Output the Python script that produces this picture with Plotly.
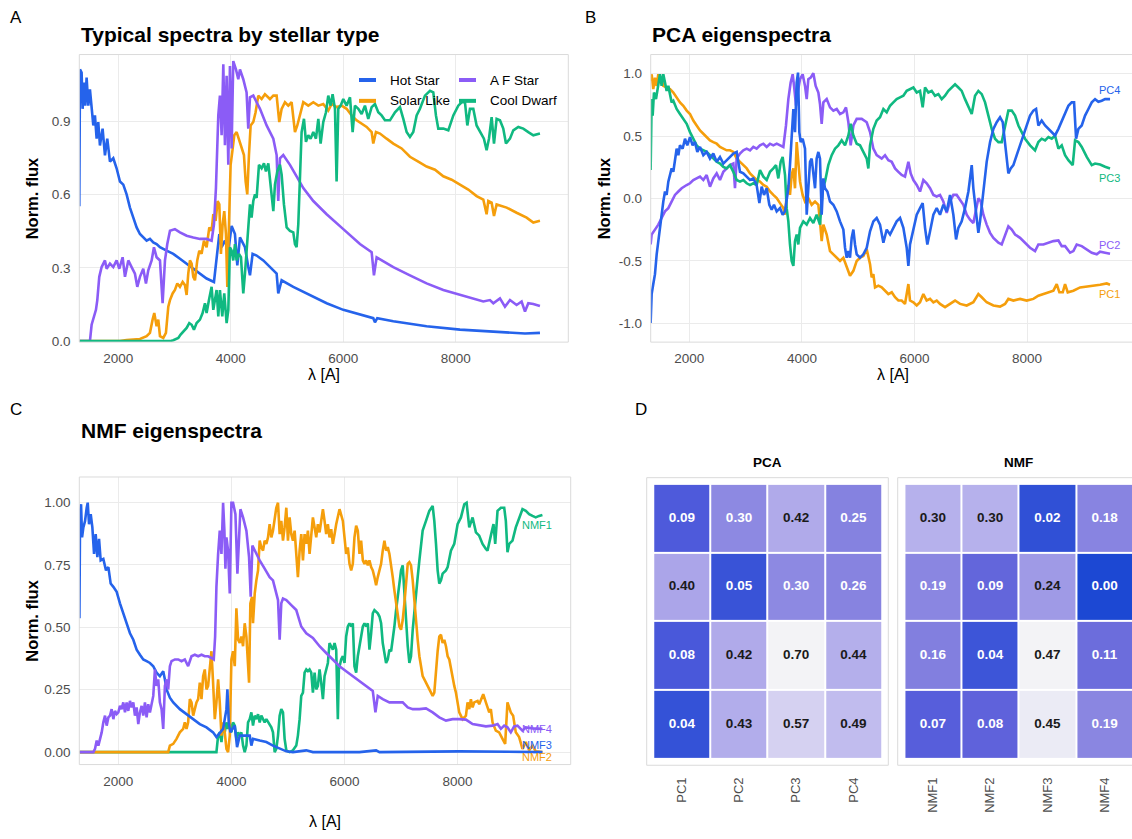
import plotly.graph_objects as go

W, H = 1132, 839
FONT = "Liberation Sans, Arial, Helvetica, sans-serif"

# ---------------- data (wavelength [A], normalised flux) ----------------
hot_star = [(1307,0.552),(1319,1.111),(1348,1.098),(1366,0.95),(1390,1.057),(1413,0.963),(1437,1.078),(1467,0.963),(1496,1.03),(1526,0.95),
 (1556,0.882),(1585,0.923),(1615,0.828),(1644,0.896),(1674,0.80),(1721,0.869),(1763,0.76),(1804,0.828),(1852,0.734),(1911,0.748),
 (1970,0.707),(2030,0.653),(2089,0.64),(2148,0.60),(2207,0.546),(2267,0.505),(2326,0.465),(2385,0.438),(2444,0.424),(2504,0.411),
 (2563,0.418),(2622,0.404),(2681,0.397),(2741,0.384),(2859,0.37),(2978,0.357),(3096,0.337),(3215,0.317),(3333,0.296),(3452,0.276),
 (3570,0.256),(3701,0.242),(3748,0.33),(3796,0.438),(3837,0.384),(3896,0.411),(3956,0.37),(4015,0.471),(4074,0.438),(4116,0.31),
 (4163,0.424),(4252,0.384),(4311,0.303),(4341,0.269),(4388,0.357),(4459,0.35),(4578,0.33),(4696,0.303),(4815,0.276),(4844,0.195),
 (4904,0.249),(5111,0.222),(5407,0.189),(5704,0.155),(6000,0.128),(6296,0.108),(6533,0.094),(6563,0.077),(6604,0.094),(6889,0.081),
 (7481,0.061),(8074,0.047),(8667,0.038),(8963,0.036),(9230,0.031),(9496,0.034)]

af_star = [(1307,0),(1496,0),(1526,0.067),(1556,0.088),(1603,0.128),(1627,0.168),(1662,0.263),(1704,0.303),(1763,0.33),(1793,0.296),
 (1852,0.317),(1911,0.303),(1970,0.33),(2018,0.296),(2077,0.343),(2119,0.263),(2178,0.33),(2237,0.303),(2296,0.276),(2338,0.222),
 (2385,0.263),(2444,0.296),(2492,0.236),(2533,0.29),(2593,0.33),(2634,0.384),(2681,0.343),(2741,0.33),(2788,0.155),(2830,0.33),
 (2871,0.397),(2919,0.451),(3007,0.458),(3096,0.445),(3215,0.431),(3333,0.424),(3452,0.418),(3570,0.418),(3659,0.411),(3701,0.478),
 (3736,0.626),(3778,0.923),(3807,1.004),(3837,0.842),(3867,1.132),(3896,0.801),(3926,1.085),(3956,0.721),(3985,1.125),(4015,0.788),
 (4044,1.145),(4092,1.111),(4133,1.071),(4163,1.111),(4222,1.071),(4281,1.017),(4311,0.869),(4341,0.997),(4400,1.004),(4519,0.95),
 (4637,0.882),(4756,0.828),(4815,0.761),(4844,0.573),(4874,0.748),(4933,0.761),(5052,0.721),(5170,0.674),(5289,0.626),(5467,0.573),
 (5704,0.519),(6000,0.458),(6296,0.397),(6504,0.364),(6545,0.269),(6593,0.343),(6889,0.303),(7185,0.269),(7481,0.236),(7778,0.209),
 (8074,0.189),(8370,0.171),(8489,0.162),(8607,0.168),(8667,0.155),(8785,0.175),(8874,0.141),(8963,0.168),(9081,0.148),(9170,0.162),
 (9230,0.121),(9289,0.155),(9378,0.152),(9496,0.144)]

solar_like = [(1307,0),(2030,0),(2148,0.004),(2385,0.009),(2504,0.02),(2563,0.034),(2610,0.088),(2640,0.115),(2681,0.061),(2711,0.088),
 (2741,0.02),(2800,0.013),(2847,0.034),(2889,0.141),(2919,0.168),(2966,0.195),(3007,0.209),(3049,0.236),(3096,0.222),(3144,0.242),
 (3185,0.229),(3215,0.189),(3244,0.276),(3274,0.33),(3304,0.317),(3333,0.263),(3363,0.249),(3404,0.33),(3440,0.37),(3481,0.357),
 (3523,0.411),(3570,0.384),(3618,0.465),(3659,0.451),(3689,0.519),(3730,0.492),(3766,0.573),(3796,0.559),(3825,0.357),(3855,0.478),
 (3884,0.532),(3914,0.438),(3938,0.222),(3967,0.465),(3997,0.721),(4027,0.775),(4062,0.842),(4104,0.855),(4145,0.828),(4193,0.788),
 (4234,0.761),(4264,0.653),(4293,0.6),(4323,0.761),(4353,0.882),(4400,0.896),(4441,0.936),(4489,1.004),(4548,0.99),(4607,1.01),
 (4696,0.99),(4756,1.004),(4815,1.004),(4862,0.896),(4904,0.95),(4963,0.977),(5022,0.963),(5081,0.977),(5141,0.855),(5182,0.882),
 (5230,0.923),(5289,0.977),(5378,0.963),(5467,0.977),(5556,0.963),(5644,0.97),(5733,0.943),(5793,0.97),(5881,0.957),(5970,0.963),
 (6059,0.95),(6148,0.923),(6237,0.903),(6326,0.889),(6415,0.876),(6504,0.855),(6533,0.808),(6581,0.855),(6652,0.849),(6770,0.828),
 (6889,0.808),(7037,0.788),(7185,0.754),(7333,0.734),(7481,0.714),(7630,0.701),(7778,0.674),(7926,0.66),(8074,0.64),(8222,0.62),
 (8370,0.593),(8489,0.579),(8548,0.519),(8578,0.573),(8637,0.566),(8679,0.512),(8726,0.559),(8904,0.546),(9081,0.525),(9259,0.505),
 (9378,0.485),(9496,0.492)]

cool_dwarf = [(1307,0),(2919,0),(2978,0.004),(3067,0.013),(3108,0.027),(3156,0.04),(3215,0.054),(3262,0.074),(3304,0.067),(3345,0.047),
 (3393,0.074),(3452,0.088),(3499,0.115),(3541,0.155),(3570,0.115),(3612,0.168),(3659,0.222),(3689,0.128),(3719,0.168),(3748,0.209),
 (3778,0.101),(3807,0.209),(3849,0.101),(3884,0.195),(3926,0.074),(3956,0.128),(3985,0.384),(4015,0.37),(4044,0.33),(4074,0.397),
 (4104,0.33),(4145,0.357),(4181,0.343),(4222,0.195),(4252,0.276),(4281,0.357),(4311,0.478),(4341,0.559),(4370,0.505),(4400,0.573),
 (4430,0.6),(4459,0.586),(4501,0.721),(4548,0.707),(4590,0.727),(4625,0.694),(4667,0.727),(4708,0.626),(4756,0.532),(4785,0.64),
 (4827,0.694),(4874,0.721),(4904,0.681),(4945,0.559),(4993,0.465),(5052,0.451),(5111,0.445),(5141,0.397),(5170,0.384),(5200,0.478),
 (5230,0.707),(5259,0.855),(5301,0.909),(5336,0.815),(5378,0.842),(5419,0.828),(5467,0.855),(5514,0.828),(5556,0.909),(5597,0.808),
 (5644,0.896),(5692,0.936),(5733,1.004),(5775,0.963),(5810,1.01),(5852,0.95),(5881,0.653),(5911,0.95),(5953,0.963),(6000,0.99),
 (6059,0.963),(6119,0.997),(6166,0.855),(6207,0.963),(6267,0.95),(6326,0.929),(6385,0.963),(6444,0.909),(6504,0.957),(6563,0.97),
 (6622,0.936),(6681,0.923),(6741,0.903),(6830,0.903),(6919,0.936),(7007,0.957),(7067,0.909),(7126,0.855),(7185,0.835),(7244,0.855),
 (7304,0.923),(7363,0.95),(7452,1.004),(7541,1.024),(7600,1.017),(7647,0.923),(7689,0.869),(7778,0.869),(7867,0.862),(7956,0.923),
 (8044,0.963),(8104,0.977),(8163,0.977),(8205,0.882),(8252,0.95),(8311,0.95),(8370,0.882),(8441,0.855),(8500,0.828),(8548,0.781),
 (8590,0.828),(8637,0.916),(8679,0.808),(8726,0.909),(8785,0.903),(8844,0.869),(8892,0.808),(8963,0.828),(9022,0.862),(9111,0.876),
 (9200,0.869),(9289,0.855),(9378,0.842),(9496,0.849)]

pc1 = [(1313,0.94),(1331,0.995),(1360,0.876),(1390,0.968),(1420,0.902),(1449,0.995),(1479,0.929),(1508,0.955),(1538,0.902),(1597,0.889),
 (1657,0.876),(1716,0.849),(1775,0.81),(1834,0.77),(1893,0.743),(1953,0.704),(2012,0.677),(2071,0.624),(2130,0.585),(2190,0.545),
 (2249,0.519),(2308,0.492),(2367,0.466),(2426,0.452),(2486,0.439),(2545,0.413),(2604,0.399),(2663,0.386),(2722,0.386),(2782,0.373),
 (2841,0.32),(2900,0.294),(2959,0.267),(3019,0.241),(3078,0.201),(3137,0.175),(3196,0.148),(3255,0.135),(3315,0.108),(3374,0.095),
 (3433,0.056),(3492,0.029),(3552,0.003),(3611,-0.037),(3670,-0.077),(3700,-0.13),(3729,0.029),(3759,0.108),(3788,0.029),(3818,0.188),
 (3848,0.241),(3877,0.082),(3907,0.452),(3936,0.294),(3966,0.135),(4013,0.029),(4055,-0.024),(4114,0.003),(4173,-0.05),(4233,-0.024),
 (4292,-0.05),(4321,-0.183),(4351,-0.341),(4381,-0.209),(4440,-0.288),(4499,-0.421),(4558,-0.447),(4618,-0.474),(4677,-0.5),(4736,-0.474),
 (4795,-0.553),(4854,-0.619),(4914,-0.579),(4973,-0.5),(5032,-0.474),(5091,-0.46),(5151,-0.407),(5210,-0.526),(5239,-0.632),(5269,-0.606),
 (5299,-0.712),(5358,-0.698),(5417,-0.712),(5476,-0.738),(5535,-0.765),(5595,-0.751),(5654,-0.791),(5713,-0.817),(5772,-0.817),(5831,-0.844),
 (5861,-0.778),(5891,-0.685),(5920,-0.817),(5980,-0.831),(6039,-0.857),(6098,-0.831),(6157,-0.765),(6216,-0.817),(6276,-0.804),(6335,-0.831),
 (6394,-0.817),(6453,-0.844),(6542,-0.87),(6631,-0.844),(6720,-0.817),(6809,-0.844),(6927,-0.857),(7045,-0.831),(7134,-0.765),(7194,-0.791),
 (7282,-0.831),(7401,-0.857),(7519,-0.865),(7608,-0.844),(7667,-0.804),(7756,-0.817),(7874,-0.804),(7993,-0.817),(8111,-0.804),(8200,-0.778),
 (8289,-0.765),(8378,-0.751),(8467,-0.738),(8526,-0.685),(8573,-0.751),(8633,-0.751),(8674,-0.685),(8722,-0.751),(8822,-0.738),(8941,-0.712),
 (9059,-0.706),(9177,-0.698),(9296,-0.69),(9414,-0.68),(9473,-0.69)]

pc2 = [(1313,-0.368),(1331,-0.288),(1390,-0.249),(1449,-0.209),(1508,-0.156),(1568,-0.103),(1627,-0.077),(1686,-0.024),(1745,0.029),(1805,0.056),
 (1864,0.082),(1953,0.108),(2012,0.122),(2071,0.148),(2130,0.161),(2190,0.175),(2249,0.148),(2308,0.188),(2367,0.095),(2426,0.161),
 (2486,0.201),(2545,0.148),(2604,0.214),(2663,0.241),(2722,0.267),(2782,0.28),(2811,0.082),(2841,0.32),(2900,0.36),(2959,0.386),
 (3019,0.399),(3078,0.386),(3137,0.413),(3196,0.399),(3255,0.426),(3315,0.439),(3374,0.413),(3433,0.439),(3492,0.426),(3552,0.439),
 (3611,0.426),(3670,0.413),(3717,0.585),(3759,0.796),(3800,0.929),(3836,0.995),(3860,0.902),(3895,0.743),(3936,0.876),(3966,0.955),
 (4013,0.995),(4055,0.902),(4085,0.796),(4114,0.955),(4156,0.968),(4203,1.003),(4244,0.902),(4292,0.849),(4321,0.757),(4351,0.598),
 (4381,0.77),(4440,0.796),(4499,0.73),(4558,0.704),(4618,0.717),(4677,0.677),(4736,0.69),(4783,0.73),(4825,0.611),(4866,0.426),
 (4914,0.585),(4973,0.638),(5062,0.638),(5151,0.611),(5210,0.532),(5269,0.399),(5328,0.347),(5417,0.32),(5476,0.347),(5535,0.307),
 (5595,0.294),(5654,0.241),(5713,0.214),(5772,0.188),(5831,0.175),(5891,0.294),(5932,0.201),(5980,0.148),(6039,0.108),(6098,0.056),
 (6157,0.148),(6216,0.122),(6276,0.082),(6335,0.029),(6394,0.016),(6453,0.029),(6512,-0.024),(6572,-0.116),(6631,-0.024),(6690,0.029),
 (6749,0.029),(6809,-0.011),(6868,-0.05),(6927,-0.13),(6986,-0.169),(7045,-0.196),(7105,-0.077),(7134,0.003),(7176,-0.024),(7223,-0.13),
 (7282,-0.209),(7342,-0.275),(7401,-0.315),(7490,-0.354),(7549,-0.368),(7608,-0.288),(7667,-0.222),(7727,-0.249),(7786,-0.288),(7874,-0.315),
 (7963,-0.354),(8052,-0.394),(8141,-0.421),(8200,-0.368),(8289,-0.368),(8378,-0.354),(8467,-0.341),(8556,-0.336),(8615,-0.381),(8674,-0.381),
 (8763,-0.434),(8822,-0.421),(8881,-0.368),(8970,-0.381),(9059,-0.407),(9148,-0.434),(9237,-0.447),(9296,-0.426),(9385,-0.434),(9473,-0.442)]

pc3 = [(1313,0.228),(1331,0.796),(1349,0.664),(1372,0.849),(1408,0.796),(1449,0.929),(1479,0.995),(1508,0.902),(1538,0.995),(1568,0.929),
 (1597,0.862),(1627,0.902),(1657,0.823),(1686,0.77),(1716,0.783),(1775,0.717),(1834,0.677),(1893,0.638),(1953,0.598),(2012,0.532),
 (2071,0.479),(2130,0.426),(2190,0.399),(2249,0.386),(2308,0.373),(2367,0.347),(2426,0.32),(2486,0.294),(2545,0.28),(2604,0.254),
 (2663,0.241),(2722,0.267),(2782,0.214),(2841,0.148),(2900,0.135),(2959,0.148),(3019,0.122),(3078,0.108),(3137,0.122),(3196,0.108),
 (3255,0.228),(3315,0.175),(3374,0.148),(3433,0.214),(3492,0.241),(3540,0.267),(3581,0.161),(3623,0.294),(3658,0.333),(3700,0.188),
 (3729,-0.077),(3759,-0.183),(3788,-0.368),(3818,-0.5),(3848,-0.54),(3877,-0.341),(3907,-0.288),(3936,-0.368),(3966,-0.235),(4025,-0.183),
 (4085,-0.209),(4144,-0.156),(4203,-0.196),(4262,-0.13),(4321,-0.209),(4369,0.082),(4410,0.135),(4469,0.267),(4529,0.347),(4588,0.399),
 (4647,0.426),(4706,0.466),(4766,0.426),(4825,0.505),(4866,0.598),(4914,0.505),(4973,0.439),(5032,0.426),(5091,0.373),(5151,0.32),
 (5180,0.241),(5210,0.426),(5269,0.558),(5328,0.624),(5387,0.651),(5447,0.717),(5506,0.69),(5565,0.743),(5624,0.77),(5683,0.796),
 (5743,0.81),(5802,0.823),(5861,0.862),(5920,0.876),(5980,0.889),(6039,0.849),(6098,0.862),(6145,0.73),(6187,0.889),(6246,0.849),
 (6305,0.862),(6364,0.823),(6424,0.836),(6483,0.796),(6542,0.823),(6601,0.862),(6661,0.889),(6720,0.915),(6779,0.889),(6838,0.862),
 (6897,0.796),(6957,0.73),(7016,0.677),(7075,0.823),(7134,0.862),(7194,0.836),(7253,0.77),(7312,0.664),(7371,0.558),(7430,0.479),
 (7490,0.452),(7549,0.452),(7608,0.585),(7667,0.704),(7727,0.704),(7786,0.664),(7845,0.585),(7904,0.532),(7963,0.479),(8052,0.426),
 (8141,0.386),(8200,0.452),(8259,0.479),(8319,0.466),(8378,0.492),(8437,0.479),(8496,0.505),(8556,0.399),(8615,0.426),(8674,0.347),
 (8733,0.307),(8810,0.267),(8852,0.466),(8911,0.452),(8970,0.413),(9059,0.333),(9148,0.267),(9207,0.28),(9296,0.272),(9385,0.254),
 (9473,0.241)]

pc4 = [(1313,-0.997),(1331,-0.765),(1360,-0.685),(1390,-0.606),(1420,-0.447),(1449,-0.341),(1479,-0.209),(1508,-0.13),(1538,-0.024),(1568,0.056),
 (1597,0.029),(1627,0.135),(1657,0.188),(1686,0.241),(1716,0.214),(1745,0.32),(1775,0.399),(1805,0.347),(1834,0.426),(1881,0.399),
 (1923,0.479),(1964,0.426),(2012,0.492),(2059,0.426),(2100,0.452),(2142,0.373),(2190,0.413),(2249,0.347),(2308,0.373),(2367,0.32),
 (2426,0.36),(2486,0.294),(2545,0.333),(2604,0.28),(2663,0.307),(2722,0.333),(2782,0.36),(2841,0.373),(2900,0.214),(2959,0.201),
 (3019,0.175),(3078,0.148),(3137,0.161),(3196,0.108),(3244,-0.037),(3285,0.095),(3327,0.029),(3374,0.082),(3421,-0.05),(3463,-0.09),
 (3504,-0.05),(3552,-0.103),(3611,-0.077),(3658,-0.13),(3700,-0.103),(3729,0.003),(3759,0.082),(3788,0.267),(3818,0.532),(3848,0.717),
 (3877,0.532),(3907,0.929),(3931,1.008),(3954,0.532),(3978,0.452),(4013,0.479),(4055,0.399),(4085,-0.13),(4114,0.082),(4144,0.294),
 (4173,0.32),(4203,0.188),(4233,0.082),(4262,0.32),(4292,0.373),(4321,0.32),(4351,-0.13),(4381,0.161),(4410,0.082),(4452,0.056),
 (4499,-0.024),(4558,-0.05),(4618,-0.103),(4677,-0.183),(4736,-0.249),(4766,-0.394),(4795,-0.474),(4825,-0.421),(4854,-0.474),(4884,-0.315),
 (4914,-0.249),(4943,-0.368),(4973,-0.447),(5032,-0.474),(5091,-0.447),(5151,-0.394),(5210,-0.262),(5269,-0.183),(5328,-0.156),(5387,-0.209),
 (5447,-0.354),(5506,-0.249),(5565,-0.288),(5624,-0.235),(5683,-0.183),(5743,-0.156),(5802,-0.235),(5861,-0.394),(5891,-0.54),(5920,-0.368),
 (5980,-0.235),(6039,-0.13),(6098,-0.077),(6145,-0.037),(6187,-0.235),(6228,-0.368),(6276,-0.262),(6335,-0.13),(6394,-0.077),(6453,-0.13),
 (6512,-0.05),(6572,-0.103),(6631,0.029),(6690,-0.13),(6738,-0.328),(6779,-0.235),(6838,-0.183),(6897,-0.077),(6957,0.056),(7016,0.267),
 (7045,0.082),(7093,-0.13),(7134,-0.275),(7164,-0.183),(7223,0.082),(7282,0.294),(7342,0.452),(7401,0.558),(7460,0.611),(7519,0.651),
 (7567,0.611),(7608,0.452),(7638,0.294),(7667,0.201),(7709,0.241),(7756,0.267),(7815,0.347),(7874,0.426),(7934,0.505),(7993,0.585),
 (8052,0.664),(8111,0.704),(8159,0.717),(8200,0.585),(8259,0.624),(8319,0.585),(8378,0.558),(8437,0.532),(8496,0.505),(8556,0.558),
 (8615,0.624),(8674,0.69),(8733,0.743),(8792,0.77),(8834,0.77),(8870,0.479),(8911,0.558),(8970,0.585),(9029,0.664),(9089,0.717),
 (9148,0.77),(9207,0.796),(9266,0.775),(9325,0.783),(9385,0.796),(9473,0.796)]

nmf1 = [(1312,0),(3735,0),(3765,0.066),(3794,0.079),(3824,0.04),(3853,0.106),(3882,0.079),(3912,0.119),(3941,0.093),(3971,0.119),
 (4000,0.079),(4029,0.119),(4059,0.106),(4088,0.053),(4118,0.079),(4147,0.066),(4176,0.079),(4206,0.026),(4235,0),(4265,0.026),
 (4294,0.119),(4324,0.132),(4353,0.159),(4382,0.106),(4412,0.146),(4441,0.132),(4471,0.152),(4500,0.119),(4529,0.146),(4559,0.132),
 (4588,0.119),(4618,0.132),(4647,0.119),(4676,0.106),(4706,0.099),(4735,0.079),(4765,0),(4794,0.013),(4824,0.066),(4853,0.146),
 (4882,0.172),(4912,0.159),(4941,0.053),(4971,0.007),(5029,0),(5088,0.007),(5147,0.026),(5176,0.066),(5206,0.132),(5235,0.225),
 (5265,0.238),(5294,0.318),(5324,0.331),(5353,0.324),(5382,0.331),(5412,0.318),(5441,0.238),(5471,0.318),(5500,0.251),(5529,0.265),
 (5559,0.331),(5588,0.278),(5618,0.212),(5647,0.304),(5676,0.331),(5706,0.357),(5735,0.437),(5765,0.424),(5794,0.41),(5824,0.437),
 (5853,0.41),(5882,0.132),(5900,0.331),(5941,0.371),(5971,0.384),(6000,0.357),(6029,0.463),(6059,0.503),(6088,0.516),(6118,0.503),
 (6147,0.516),(6176,0.344),(6206,0.318),(6235,0.384),(6265,0.424),(6294,0.476),(6324,0.503),(6353,0.516),(6382,0.503),(6412,0.516),
 (6441,0.41),(6471,0.476),(6500,0.556),(6529,0.569),(6559,0.562),(6588,0.556),(6618,0.543),(6647,0.516),(6676,0.437),(6706,0.397),
 (6735,0.357),(6765,0.371),(6794,0.41),(6824,0.404),(6853,0.45),(6882,0.503),(6912,0.569),(6941,0.622),(6971,0.662),(7000,0.728),
 (7029,0.748),(7059,0.622),(7088,0.503),(7118,0.424),(7147,0.357),(7176,0.384),(7206,0.49),(7235,0.569),(7265,0.648),(7294,0.701),
 (7324,0.768),(7353,0.821),(7382,0.887),(7441,0.926),(7500,0.966),(7559,0.986),(7588,0.926),(7618,0.834),(7647,0.728),(7676,0.675),
 (7706,0.688),(7735,0.715),(7794,0.728),(7824,0.741),(7882,0.807),(7941,0.834),(8000,0.913),(8059,0.94),(8118,0.993),(8159,0.999),
 (8206,0.9),(8265,0.94),(8324,0.88),(8382,0.867),(8441,0.834),(8500,0.814),(8529,0.807),(8588,0.867),(8635,0.913),(8665,0.834),
 (8706,0.966),(8765,0.979),(8824,0.979),(8853,0.926),(8882,0.801),(8912,0.834),(8971,0.847),(9029,0.9),(9088,0.94),(9147,0.973),
 (9206,0.966),(9265,0.953),(9324,0.946),(9382,0.94),(9441,0.946),(9500,0.95)]

nmf2 = [(1312,0),(2882,0),(2912,0.026),(2971,0.033),(3029,0.053),(3088,0.079),(3147,0.093),(3176,0.119),(3206,0.093),(3235,0.119),
 (3265,0.212),(3294,0.199),(3324,0.146),(3353,0.172),(3382,0.199),(3412,0.212),(3441,0.278),(3471,0.212),(3500,0.304),(3529,0.331),
 (3559,0.251),(3588,0.265),(3618,0.331),(3647,0.404),(3676,0.278),(3706,0.132),(3735,0.199),(3765,0.291),(3794,0.199),(3824,0.066),
 (3853,0.119),(3882,0.079),(3912,0.013),(3941,0),(3971,0.066),(4000,0.371),(4029,0.404),(4059,0.344),(4088,0.576),(4118,0.45),
 (4147,0.437),(4176,0.463),(4206,0.424),(4235,0.516),(4265,0.463),(4294,0.331),(4312,0.278),(4335,0.596),(4365,0.622),(4382,0.516),
 (4412,0.635),(4441,0.688),(4471,0.728),(4500,0.847),(4529,0.82),(4559,0.807),(4588,0.847),(4618,0.834),(4647,0.86),(4676,0.913),
 (4706,0.86),(4735,0.887),(4765,0.94),(4794,0.979),(4824,0.999),(4853,0.873),(4882,0.926),(4912,0.847),(4941,0.9),(4971,0.979),
 (5000,0.847),(5029,0.94),(5059,0.873),(5088,0.847),(5118,0.887),(5147,0.794),(5176,0.701),(5206,0.807),(5235,0.873),(5265,0.768),
 (5294,0.873),(5324,0.834),(5353,0.887),(5382,0.794),(5412,0.873),(5441,0.94),(5471,0.9),(5500,0.86),(5529,0.913),(5559,0.88),
 (5588,0.926),(5618,0.973),(5647,0.926),(5676,0.873),(5706,0.913),(5735,0.86),(5765,0.893),(5794,0.834),(5824,0.873),(5853,0.913),
 (5912,0.973),(5941,0.953),(5971,0.926),(6000,0.86),(6029,0.794),(6059,0.82),(6088,0.754),(6118,0.728),(6147,0.754),(6176,0.86),
 (6206,0.907),(6235,0.887),(6265,0.794),(6294,0.847),(6324,0.768),(6353,0.754),(6382,0.768),(6412,0.748),(6441,0.768),(6471,0.741),
 (6500,0.728),(6529,0.701),(6559,0.668),(6588,0.701),(6618,0.728),(6647,0.754),(6676,0.807),(6706,0.847),(6735,0.807),(6765,0.821),
 (6794,0.794),(6824,0.754),(6853,0.701),(6882,0.648),(6912,0.596),(6941,0.556),(6971,0.503),(7000,0.49),(7029,0.529),(7059,0.596),
 (7088,0.688),(7118,0.754),(7147,0.761),(7176,0.748),(7206,0.688),(7235,0.596),(7265,0.516),(7294,0.45),(7324,0.384),(7382,0.304),
 (7441,0.278),(7500,0.251),(7559,0.225),(7588,0.238),(7618,0.331),(7647,0.404),(7676,0.463),(7706,0.47),(7735,0.437),(7765,0.45),
 (7794,0.424),(7824,0.384),(7853,0.371),(7882,0.331),(7912,0.291),(7941,0.265),(7971,0.238),(8000,0.199),(8029,0.159),(8088,0.132),
 (8147,0.146),(8176,0.199),(8206,0.172),(8235,0.212),(8265,0.179),(8294,0.199),(8353,0.205),(8382,0.192),(8412,0.212),(8453,0.232),
 (8500,0.199),(8559,0.159),(8588,0.172),(8618,0.119),(8676,0.086),(8735,0.079),(8794,0.053),(8841,0.033),(8882,0.199),(8912,0.179),
 (8941,0.159),(8982,0.146),(9029,0.079),(9088,0.06),(9147,0.013),(9206,0.04),(9265,0.007),(9324,0.026),(9382,0.003),(9500,0)]

nmf3 = [(1312,0.536),(1324,0.966),(1341,0.993),(1359,0.86),(1382,0.9),(1412,0.926),(1441,0.979),(1459,0.999),(1482,0.913),(1512,0.953),
 (1541,0.9),(1571,0.794),(1600,0.873),(1629,0.781),(1659,0.854),(1688,0.768),(1735,0.774),(1782,0.728),(1824,0.741),(1865,0.675),
 (1912,0.662),(1971,0.642),(2029,0.596),(2088,0.556),(2147,0.516),(2206,0.476),(2265,0.45),(2324,0.41),(2382,0.39),(2441,0.371),
 (2500,0.364),(2559,0.357),(2618,0.344),(2676,0.318),(2735,0.304),(2794,0.324),(2824,0.291),(2853,0.251),(2912,0.218),(2971,0.199),
 (3088,0.172),(3206,0.152),(3324,0.132),(3441,0.112),(3559,0.099),(3676,0.079),(3735,0.06),(3794,0.079),(3853,0.093),(3912,0.172),
 (3929,0.251),(3953,0.119),(3982,0.079),(4018,0.093),(4059,0.106),(4100,0.02),(4147,0.066),(4206,0.066),(4265,0.066),(4324,0.066),
 (4353,0.026),(4382,0.053),(4500,0.046),(4618,0.04),(4735,0.026),(4853,0.013),(4971,0.003),(5088,0),(5324,0.007),(5441,0),
 (6265,0),(6559,0.007),(6618,0),(8029,0.003),(9500,0)]

nmf4 = [(1312,0),(1559,0),(1588,0.013),(1618,0.046),(1647,0.026),(1676,0.053),(1706,0.079),(1735,0.119),(1765,0.146),(1794,0.106),
 (1824,0.139),(1853,0.146),(1882,0.172),(1912,0.132),(1941,0.165),(1971,0.152),(2000,0.159),(2029,0.185),(2059,0.172),(2088,0.199),
 (2118,0.159),(2147,0.199),(2176,0.165),(2206,0.205),(2235,0.179),(2265,0.199),(2294,0.146),(2324,0.179),(2353,0.112),(2382,0.159),
 (2412,0.185),(2441,0.146),(2471,0.199),(2500,0.139),(2529,0.192),(2559,0.159),(2588,0.199),(2618,0.225),(2647,0.331),(2676,0.265),
 (2706,0.291),(2735,0.199),(2765,0.172),(2794,0.093),(2824,0.265),(2853,0.291),(2882,0.251),(2912,0.344),(2941,0.364),(3000,0.371),
 (3059,0.371),(3118,0.364),(3176,0.371),(3235,0.344),(3294,0.384),(3353,0.39),(3412,0.384),(3471,0.39),(3529,0.384),(3588,0.384),
 (3647,0.377),(3688,0.371),(3712,0.463),(3735,0.662),(3765,0.794),(3794,0.887),(3824,0.794),(3853,0.999),(3876,0.887),(3894,0.735),
 (3912,0.86),(3941,0.807),(3971,0.635),(4000,0.999),(4029,0.999),(4071,0.953),(4106,0.715),(4129,0.86),(4159,0.973),(4206,0.94),
 (4265,0.887),(4312,0.781),(4341,0.622),(4371,0.827),(4412,0.807),(4500,0.768),(4588,0.735),(4676,0.701),(4735,0.688),(4794,0.635),
 (4824,0.609),(4853,0.45),(4882,0.596),(4912,0.615),(4971,0.609),(5059,0.589),(5147,0.569),(5235,0.503),(5324,0.476),(5441,0.457),
 (5559,0.424),(5676,0.397),(5794,0.371),(5912,0.344),(6029,0.324),(6147,0.304),(6265,0.285),(6382,0.265),(6500,0.245),(6547,0.159),
 (6588,0.225),(6676,0.212),(6794,0.199),(6912,0.199),(7029,0.199),(7118,0.179),(7206,0.172),(7324,0.172),(7441,0.175),(7559,0.159),
 (7676,0.139),(7794,0.126),(7912,0.132),(8029,0.132),(8147,0.13),(8265,0.112),(8382,0.106),(8500,0.103),(8618,0.106),(8706,0.112),
 (8765,0.093),(8824,0.106),(8882,0.099),(8941,0.079),(9000,0.103),(9059,0.106),(9147,0.086),(9206,0.099),(9324,0.095),(9500,0.093)]

# heatmap values (rows top to bottom)
pca_cols = ["PC1", "PC2", "PC3", "PC4"]
nmf_cols = ["NMF1", "NMF2", "NMF3", "NMF4"]
pca_vals = [[0.09, 0.30, 0.42, 0.25],
            [0.40, 0.05, 0.30, 0.26],
            [0.08, 0.42, 0.70, 0.44],
            [0.04, 0.43, 0.57, 0.49]]
nmf_vals = [[0.30, 0.30, 0.02, 0.18],
            [0.19, 0.09, 0.24, 0.00],
            [0.16, 0.04, 0.47, 0.11],
            [0.07, 0.08, 0.45, 0.19]]

BLUE, ORANGE, PURPLE, GREEN = "#2563eb", "#f59e0b", "#8b5cf6", "#10b981"
heat_scale = [[0.0, "#1c48d3"], [0.043, "#3050d6"], [0.085, "#3d55d8"], [0.13, "#4f5adb"],
              [0.17, "#5f62db"], [0.23, "#6b6cdc"], [0.36, "#8682e0"], [0.43, "#8d89e2"],
              [0.51, "#9f9ae6"], [0.60, "#b0aaea"], [0.64, "#b6b1ec"], [0.81, "#d4d0f1"],
              [0.96, "#ebebf5"], [1.0, "#f3f3f6"]]

# ---------------- figure ----------------
def fx(p):
    return p / W

def fy(p):
    return 1 - p / H

fig = go.Figure()

def add_line(pairs, color, xa, ya, name):
    xs = [p[0] for p in pairs]
    ys = [p[1] for p in pairs]
    fig.add_trace(go.Scatter(x=xs, y=ys, mode="lines", name=name, showlegend=False,
                             line=dict(color=color, width=2.6), xaxis=xa, yaxis=ya,
                             hoverinfo="skip"))

add_line(hot_star, BLUE, "x", "y", "Hot Star")
add_line(solar_like, ORANGE, "x", "y", "Solar Like")
add_line(af_star, PURPLE, "x", "y", "A F Star")
add_line(cool_dwarf, GREEN, "x", "y", "Cool Dwarf")

add_line(pc1, ORANGE, "x2", "y2", "PC1")
add_line(pc2, PURPLE, "x2", "y2", "PC2")
add_line(pc3, GREEN, "x2", "y2", "PC3")
add_line(pc4, BLUE, "x2", "y2", "PC4")

add_line(nmf1, GREEN, "x3", "y3", "NMF1")
add_line(nmf2, ORANGE, "x3", "y3", "NMF2")
add_line(nmf3, BLUE, "x3", "y3", "NMF3")
add_line(nmf4, PURPLE, "x3", "y3", "NMF4")

def add_heat(vals, xa, ya):
    vmax = max(max(r) for r in vals)
    fig.add_trace(go.Heatmap(z=vals, x=[0, 1, 2, 3], y=[0, 1, 2, 3], zmin=0, zmax=vmax,
                             colorscale=heat_scale, showscale=False, xgap=2, ygap=2,
                             xaxis=xa, yaxis=ya, hoverinfo="skip"))
    tx, ty, tt, tc = [], [], [], []
    for r, row in enumerate(vals):
        for c, v in enumerate(row):
            tx.append(c)
            ty.append(r)
            tt.append("<b>%.2f</b>" % v)
            tc.append("#1a1a1a" if v / vmax > 0.5 else "#ffffff")
    fig.add_trace(go.Scatter(x=tx, y=ty, mode="text", text=tt, showlegend=False,
                             textfont=dict(color=tc, size=13.5, family=FONT),
                             xaxis=xa, yaxis=ya, hoverinfo="skip"))

add_heat(pca_vals, "x4", "y4")
add_heat(nmf_vals, "x5", "y5")

tickf = dict(size=13.5, color="#4d4d4d", family=FONT)
grid = "#ebebeb"
common_x = dict(showgrid=True, gridcolor=grid, gridwidth=1, zeroline=False, showline=False,
                tickfont=tickf, ticks="outside", ticklen=4, tickcolor="rgba(0,0,0,0)",
                tickvals=[2000, 4000, 6000, 8000])
common_y = dict(showgrid=True, gridcolor=grid, gridwidth=1, zeroline=False, showline=False,
                tickfont=tickf, ticks="outside", ticklen=5, tickcolor="rgba(0,0,0,0)")

top_dom = [fy(345), fy(55)]
bot_dom = [fy(771), fy(481)]

fig.update_layout(
    xaxis=dict(domain=[fx(79.3), fx(568.3)], range=[1307, 10000], anchor="y", **common_x),
    yaxis=dict(domain=top_dom, range=[-0.004, 1.172], anchor="x",
               tickvals=[0, 0.3, 0.6, 0.9], ticktext=["0.0", "0.3", "0.6", "0.9"], **common_y),
    xaxis2=dict(domain=[fx(650.7), 1.0], range=[1314, 9863], anchor="y2", **common_x),
    yaxis2=dict(domain=top_dom, range=[-1.15, 1.153], anchor="x2",
                tickvals=[-1, -0.5, 0, 0.5, 1], ticktext=["-1.0", "-0.5", "0.0", "0.5", "1.0"], **common_y),
    xaxis3=dict(domain=[fx(79.3), fx(570.7)], range=[1310, 10000], anchor="y3", **common_x),
    yaxis3=dict(domain=bot_dom, range=[-0.05, 1.102], anchor="x3",
                tickvals=[0, 0.25, 0.5, 0.75, 1.0], ticktext=["0.00", "0.25", "0.50", "0.75", "1.00"], **common_y),
    xaxis4=dict(domain=[fx(646.7), fx(888.3)], range=[-0.614, 3.61], anchor="y4",
                tickvals=[0, 1, 2, 3], ticktext=pca_cols, tickangle=-90, showgrid=False, zeroline=False,
                tickfont=dict(size=13, color="#4d4d4d", family=FONT), ticks="outside", ticklen=6,
                tickcolor="rgba(0,0,0,0)"),
    yaxis4=dict(domain=[fy(771.7), fy(481.7)], range=[3.596, -0.59], anchor="x4",
                showticklabels=False, showgrid=False, zeroline=False),
    xaxis5=dict(domain=[fx(897.7), 1.0], range=[-0.617, 3.479], anchor="y5",
                tickvals=[0, 1, 2, 3], ticktext=nmf_cols, tickangle=-90, showgrid=False, zeroline=False,
                tickfont=dict(size=13, color="#4d4d4d", family=FONT), ticks="outside", ticklen=6,
                tickcolor="rgba(0,0,0,0)"),
    yaxis5=dict(domain=[fy(771.7), fy(481.7)], range=[3.596, -0.59], anchor="x5",
                showticklabels=False, showgrid=False, zeroline=False),
)

border = "#dadada"
shapes = []
for (x0, x1, y0, y1) in [(79.3, 568.3, 55, 345), (650.7, 1145, 55, 345), (79.3, 570.7, 481, 771),
                         (646.7, 888.3, 481.7, 771.7), (897.7, 1145, 481.7, 771.7)]:
    shapes.append(dict(type="rect", xref="paper", yref="paper", x0=fx(x0), x1=fx(x1), y0=fy(y1), y1=fy(y0),
                       line=dict(color=border, width=1), fillcolor="rgba(0,0,0,0)", layer="above"))

# legend (panel A)
legend_items = [("Hot Star", BLUE, 359, 80.7), ("A F Star", PURPLE, 459, 80.7),
                ("Solar Like", ORANGE, 359, 101.7), ("Cool Dwarf", GREEN, 459, 101.7)]
annotations = []
for name, col, kx, ky in legend_items:
    shapes.append(dict(type="line", xref="paper", yref="paper", x0=fx(kx), x1=fx(kx + 17), y0=fy(ky), y1=fy(ky),
                       line=dict(color=col, width=4), layer="above"))
    annotations.append(dict(text=name, xref="paper", yref="paper", x=fx(kx + 28.5), y=fy(ky),
                            xanchor="left", yanchor="middle", showarrow=False,
                            font=dict(size=13.5, color="#000000", family=FONT)))

def ann(text, x, y, size, bold=False, xanchor="center", angle=0, color="#000000"):
    annotations.append(dict(text=("<b>%s</b>" % text) if bold else text, xref="paper", yref="paper",
                            x=fx(x), y=fy(y), xanchor=xanchor, yanchor="middle", showarrow=False,
                            textangle=angle, font=dict(size=size, color=color, family=FONT)))

# panel tags and titles
ann("A", 8, 18, 17, xanchor="left")
ann("B", 583, 18, 17, xanchor="left")
ann("C", 8, 413, 17, xanchor="left")
ann("D", 633, 413, 17, xanchor="left")
ann("Typical spectra by stellar type", 79, 35, 21, bold=True, xanchor="left")
ann("PCA eigenspectra", 650, 35, 21, bold=True, xanchor="left")
ann("NMF eigenspectra", 79, 434, 21, bold=True, xanchor="left")

# axis titles
ann("Norm. flux", 32, 200, 16.5, bold=True, angle=-90)
ann("Norm. flux", 604, 200, 16.5, bold=True, angle=-90)
ann("Norm. flux", 32, 626, 16.5, bold=True, angle=-90)
ann("λ [A]", 324, 378, 16)
ann("λ [A]", 893, 378, 16)
ann("λ [A]", 325, 828, 16)

# heatmap strips
ann("PCA", 767.5, 466, 13.5, bold=True)
ann("NMF", 1018.5, 466, 13.5, bold=True)

# end labels
for text, col, x, y, xa, ya in [("PC4", BLUE, 9470, 0.867, "x2", "y2"), ("PC3", GREEN, 9470, 0.161, "x2", "y2"),
                                ("PC2", PURPLE, 9470, -0.372, "x2", "y2"), ("PC1", ORANGE, 9470, -0.768, "x2", "y2"),
                                ("NMF1", GREEN, 9404, 0.911, "x3", "y3"), ("NMF4", PURPLE, 9404, 0.093, "x3", "y3"),
                                ("NMF3", BLUE, 9404, 0.030, "x3", "y3"), ("NMF2", ORANGE, 9404, -0.019, "x3", "y3")]:
    annotations.append(dict(text=text, xref=xa, yref=ya, x=x, y=y, xanchor="center", yanchor="middle",
                            showarrow=False, font=dict(size=11, color=col, family=FONT)))

fig.update_layout(width=W, height=H, autosize=False, margin=dict(l=0, r=0, t=0, b=0),
                  paper_bgcolor="white", plot_bgcolor="white", showlegend=False,
                  shapes=shapes, annotations=annotations, font=dict(family=FONT))

fig.write_html("out.html", config={"displayModeBar": False, "staticPlot": True},
               post_script="document.body.style.margin='0';document.body.style.overflow='hidden';")
